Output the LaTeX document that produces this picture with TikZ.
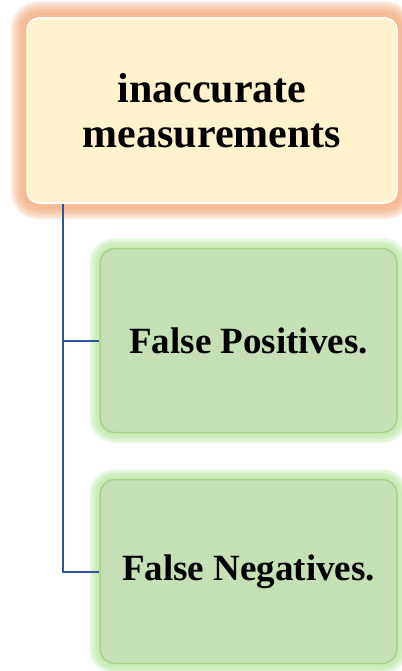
\documentclass[tikz,border=0pt]{standalone}
\usepackage{fontspec}
\setmainfont{Liberation Serif}
\usetikzlibrary{backgrounds}
\definecolor{topfill}{HTML}{FFF2CC}
\definecolor{orangeglow}{HTML}{F0A472}
\definecolor{greenfill}{HTML}{C5E0B4}
\definecolor{greenline}{HTML}{A9D18E}
\definecolor{greenglow}{HTML}{A8E28C}
\definecolor{linkblue}{HTML}{2F5597}
\tikzset{
  topbox/.style={draw=white, line width=1.5pt, fill=topfill, rounded corners=12pt,
    minimum width=370pt, minimum height=185pt, align=center, inner sep=0pt,
    font=\fontsize{42}{45}\selectfont\bfseries},
  leafbox/.style={draw=greenline, line width=1.5pt, fill=greenfill, rounded corners=15pt,
    minimum width=297pt, minimum height=184pt, align=center, inner sep=0pt,
    font=\fontsize{37}{40}\selectfont\bfseries},
  link/.style={draw=linkblue, line width=2pt},
}
\begin{document}
\begin{tikzpicture}[x=1pt,y=-1pt]
\useasboundingbox (0,0) rectangle (401,671);
\node[topbox] (top) at (212,110.5) {inaccurate\\measurements};
\node[leafbox] (fp) at (248.5,340.5) {False Positives.};
\node[leafbox] (fn) at (248.5,571.5) {False Negatives.};
\begin{scope}[on background layer]
  \foreach \w in {32,29,26,23,20,17,14,11,8}
    \draw[orangeglow, line width=\w pt, opacity=0.14, rounded corners=12pt]
      (top.south west) rectangle (top.north east);
  \foreach \n in {fp,fn}
    \foreach \w in {20,17,14,11,8,5}
      \draw[greenglow, line width=\w pt, opacity=0.16, rounded corners=15pt]
        (\n.south west) rectangle (\n.north east);
\end{scope}
\coordinate (trunk) at ([xshift=37pt]top.south west);
\draw[link] (trunk) |- (fp.west);
\draw[link] (trunk) |- (fn.west);
\end{tikzpicture}
\end{document}
